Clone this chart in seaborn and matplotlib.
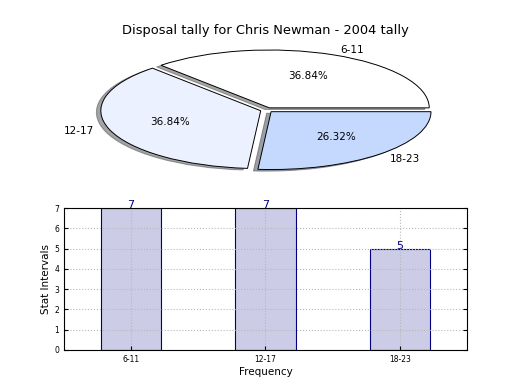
import matplotlib
matplotlib.use("Agg")
import matplotlib.pyplot as plt
import seaborn as sns
import pandas as pd

categories = ["6-11", "12-17", "18-23"]
counts = [7, 7, 5]
pie_colors = ["#ffffff", "#ebf1fe", "#c5d8fe"]
title = "Disposal tally for Chris Newman - 2004 tally"

sns.set_style("white")
plt.rcParams['font.family'] = ['DejaVu Sans']
plt.rcParams.update({"text.color": "black", "axes.labelcolor": "black",
                     "xtick.color": "black", "ytick.color": "black"})

fig = plt.figure(figsize=(5.2, 3.9), dpi=100)

# Pie (flattened)
ax1 = fig.add_axes([0.144, 0.540, 0.738, 0.356])
wedges, texts, autotexts = ax1.pie(
    counts, labels=categories, colors=pie_colors, startangle=0,
    explode=[0.04, 0.04, 0.04], shadow=True, autopct="%.2f%%",
    wedgeprops=dict(edgecolor="black", linewidth=0.7),
    textprops=dict(fontsize=7.5, color="black"))
ax1.set_aspect("auto")
ax1.set_xlim(-1.2, 1.2)
ax1.set_ylim(-1.2, 1.2)
ax1.axis("off")
fig.text(0.511, 0.922, title, ha="center", va="center", fontsize=9.4, color="black")

# Bars
ax2 = fig.add_axes([0.123, 0.1026, 0.775, 0.364])
df = pd.DataFrame({"Frequency": categories, "Stat Intervals": counts})
sns.barplot(data=df, x="Frequency", y="Stat Intervals", ax=ax2, width=0.45,
            color="#ccccE6", saturation=1, edgecolor="#000080", linewidth=0.8)
ax2.set_xlim(-0.5, 2.5)
ax2.set_ylim(0, 7)
ax2.set_yticks(range(0, 8))
ax2.grid(True, linestyle=":", color="#b8b8b8", linewidth=0.8)
ax2.set_axisbelow(False)
for p in ax2.patches:
    p.set_zorder(1)
ax2.tick_params(labelsize=5.5, direction="in", length=3, right=True, top=False, left=True, bottom=True)
for i, v in enumerate(counts):
    ax2.text(i, v - 0.1, str(v), ha="center", va="bottom", color="#000080", fontsize=8)
ax2.set_xlabel("Frequency", fontsize=7.5, labelpad=2)
ax2.set_ylabel("Stat Intervals", fontsize=7.5, labelpad=2)
for s in ax2.spines.values():
    s.set_color("black")
    s.set_linewidth(0.8)
    s.set_zorder(5)

fig.savefig("out.png", dpi=100)
